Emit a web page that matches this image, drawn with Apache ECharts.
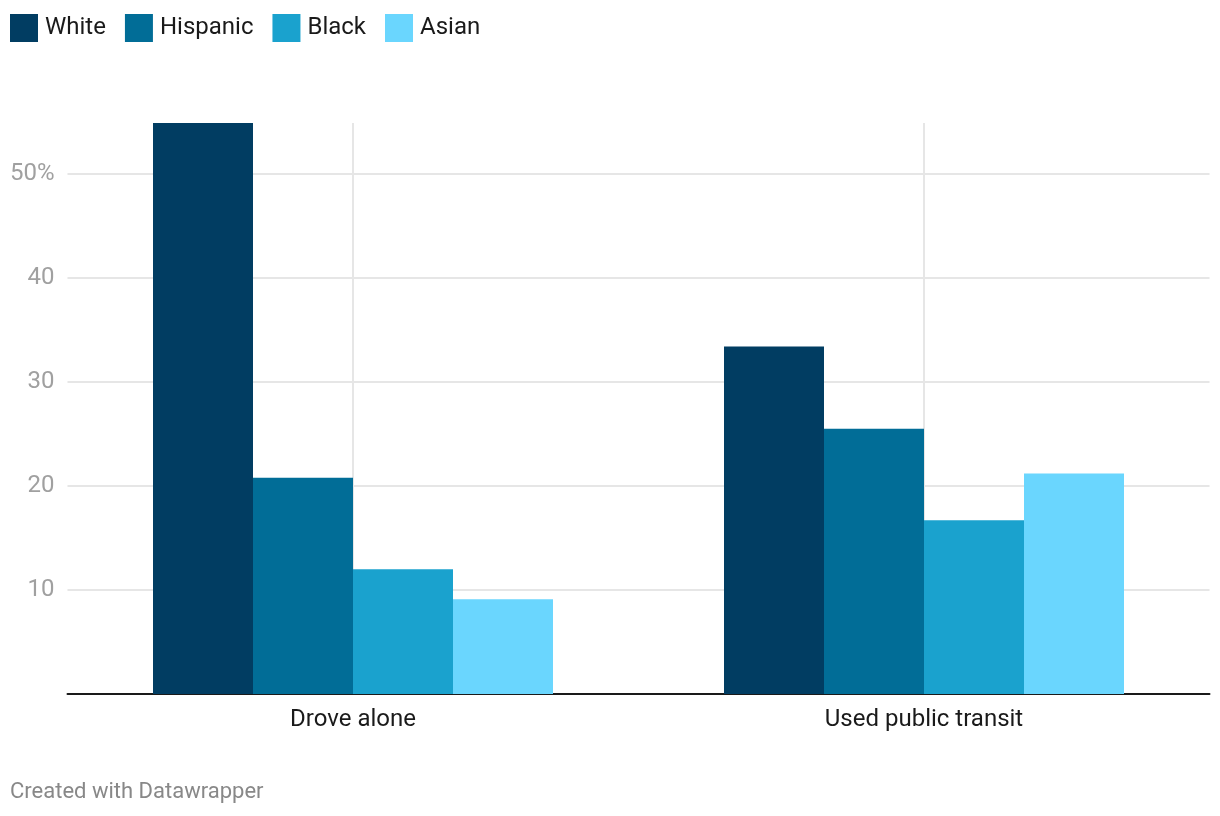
<!DOCTYPE html>
<html>
<head>
<meta charset="utf-8">
<script src="https://cdn.jsdelivr.net/npm/echarts@6/dist/echarts.min.js"></script>
<style>
html,body{margin:0;padding:0;background:#fff;}
#chart{width:1220px;height:816px;}
</style>
</head>
<body>
<div id="chart"></div>
<script>
const categories = ['Drove alone', 'Used public transit'];
const seriesNames = ['White', 'Hispanic', 'Black', 'Asian'];
const white = [54.9, 33.4];
const hispanic = [20.8, 25.5];
const black = [12.0, 16.7];
const asian = [9.1, 21.2];
const yTicks = [0, 10, 20, 30, 40, 50];
const footer = 'Created with Datawrapper';

const colors = ['#013d62', '#016d97', '#1aa2ce', '#6ad6fe'];
const values = [white, hispanic, black, asian];
const FONT = 'Roboto, "Noto Sans", sans-serif';

const chart = echarts.init(document.getElementById('chart'), null, {renderer: 'canvas'});
chart.setOption({
  animation: false,
  backgroundColor: '#ffffff',
  color: colors,
  textStyle: {fontFamily: FONT},
  legend: {
    left: 10, top: 14, padding: 0,
    itemWidth: 28, itemHeight: 28, itemGap: 19,
    icon: 'rect',
    data: seriesNames,
    textStyle: {fontSize: 24, color: '#1a1a1a', fontFamily: FONT, padding: [2, 0, 0, 2]}
  },
  grid: {left: 67.5, right: 10.5, top: 123, bottom: 122, containLabel: false},
  xAxis: [{
    type: 'category',
    data: categories,
    axisLine: {show: true, lineStyle: {color: '#1a1a1a', width: 2}},
    axisTick: {show: false},
    splitLine: {show: false},
    axisLabel: {fontSize: 24, color: '#1a1a1a', margin: 14, fontFamily: FONT}
  }, {
    type: 'value',
    position: 'bottom',
    min: 0, max: 4, interval: 1,
    axisLine: {show: false},
    axisTick: {show: false},
    axisLabel: {show: false},
    splitLine: {show: true, lineStyle: {color: ['rgba(0,0,0,0)', '#e6e6e6'], width: 2}}
  }],
  yAxis: {
    type: 'value',
    min: 0,
    max: 'dataMax',
    interval: 10,
    axisLine: {show: false},
    axisTick: {show: false},
    axisLabel: {
      fontSize: 24, color: '#a0a0a0', margin: 13, fontFamily: FONT,
      showMaxLabel: false,
      formatter: function (v) { return yTicks.indexOf(v) < 0 || v === 0 ? '' : (v === 50 ? v + '%' : String(v)); }
    },
    splitLine: {
      show: true,
      lineStyle: {color: ['#e6e6e6', '#e6e6e6', '#e6e6e6', '#e6e6e6', '#e6e6e6', '#e6e6e6', 'rgba(0,0,0,0)'], width: 2}
    }
  },
  series: seriesNames.map(function (name, i) {
    return {
      name: name,
      type: 'bar',
      xAxisIndex: 0,
      data: values[i],
      barGap: '0%',
      barWidth: 100,
      itemStyle: {color: colors[i]}
    };
  }),
  graphic: [{
    type: 'text',
    left: 10,
    top: 781,
    style: {text: footer, fill: '#888888', font: '22px ' + FONT}
  }]
});
</script>
</body>
</html>
